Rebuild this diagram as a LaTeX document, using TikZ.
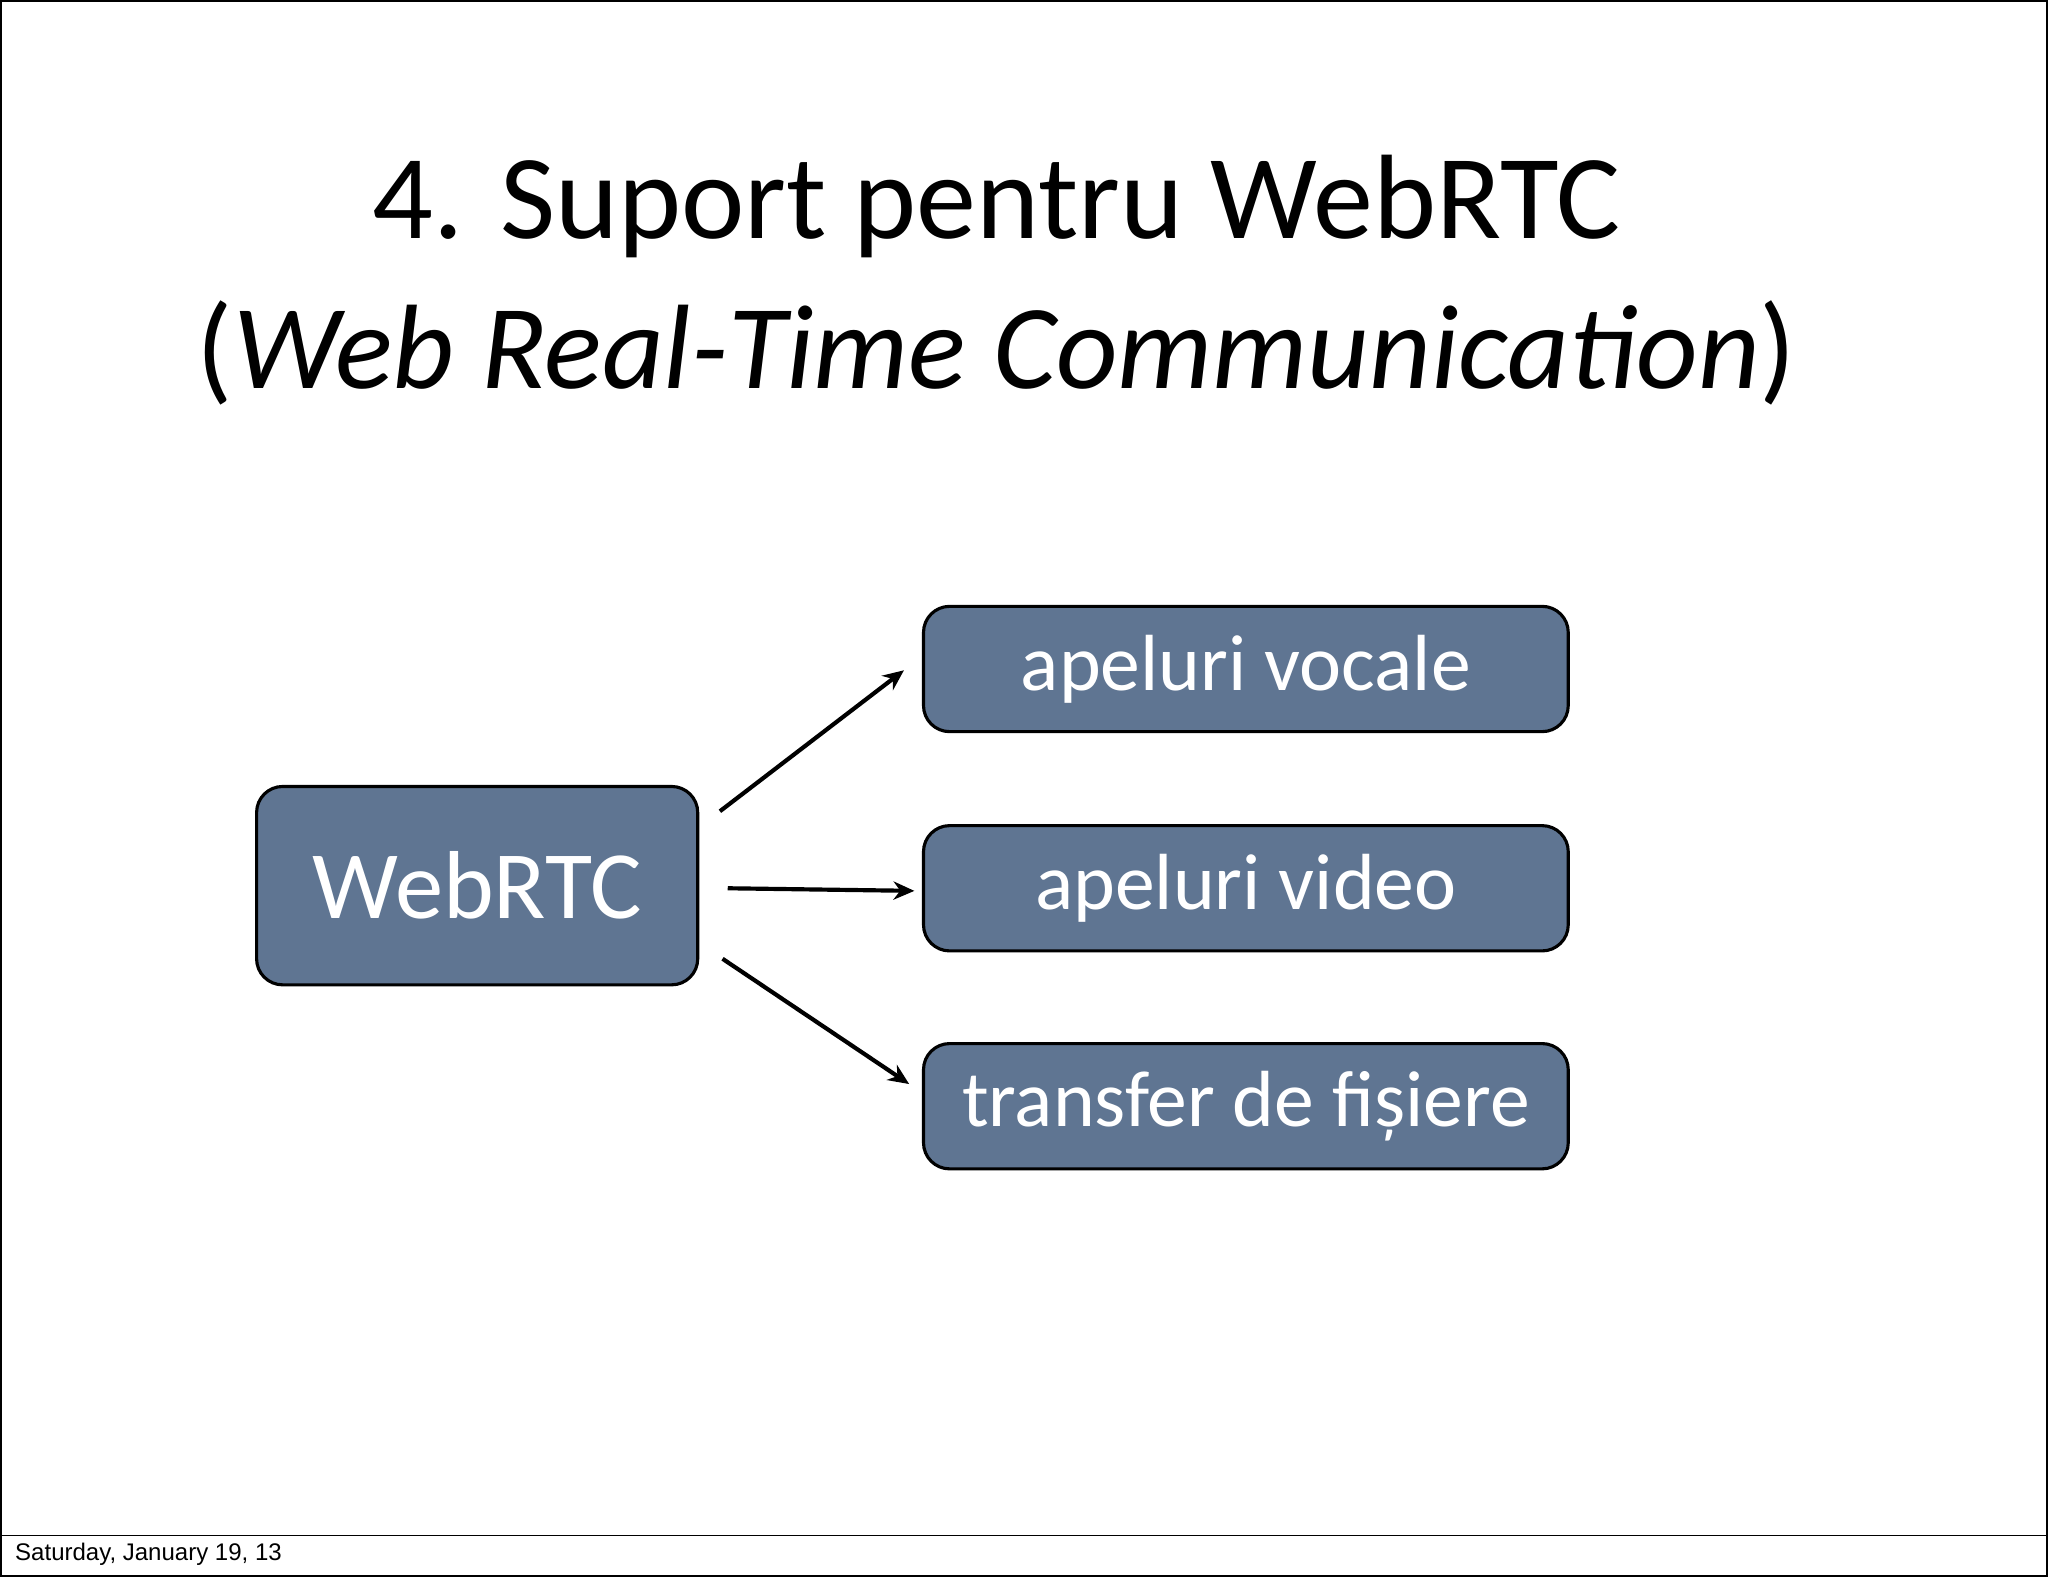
\documentclass[tikz,border=0pt]{standalone}
\usepackage{fontspec}
\setmainfont{Carlito}
\newfontfamily\footfont{Liberation Sans}
\usetikzlibrary{calc,arrows.meta}
\definecolor{slate}{HTML}{5F7592}
\begin{document}
\begin{tikzpicture}[x=0.5pt,y=-0.5pt,
  boxstyle/.style={draw=black,line width=1.2pt,fill=slate,rounded corners=10pt,text=white,inner sep=0pt},
  arr/.style={-{Stealth[length=8pt,width=7pt]},line width=1.6pt}]
\draw[line width=0.6pt,fill=white] (0,0) rectangle (1568,1207);
\draw[line width=0.6pt] (0,1176) -- (1568,1176);
\node[anchor=west,font=\footfont\fontsize{9.2}{10}\selectfont] (foot) at (4,1190) {Saturday, January 19, 13};
\node[font=\fontsize{46}{52}\selectfont] (t1) at (763,158) {4. Suport pentru WebRTC};
\node[font=\fontsize{46}{52}\selectfont] (t2) at (763,270) {(\textit{Web Real-Time Communication})};
\node[boxstyle,minimum width=169pt,minimum height=76pt,font=\fontsize{37}{42}\selectfont] (web) at (365,678) {WebRTC};
\node[boxstyle,minimum width=247pt,minimum height=48pt,font=\fontsize{30.5}{34}\selectfont] (v1) at (954,512) {apeluri vocale};
\node[boxstyle,minimum width=247pt,minimum height=48pt,font=\fontsize{30.5}{34}\selectfont] (v2) at (954,680) {apeluri video};
\node[boxstyle,minimum width=247pt,minimum height=48pt,font=\fontsize{30.5}{34}\selectfont] (v3) at (954,847) {transfer de fișiere};
\coordinate (s1) at (551,621); \coordinate (e1) at (692,513);
\coordinate (s2) at (557,680); \coordinate (e2) at (700,682);
\coordinate (s3) at (553,734); \coordinate (e3) at (696,830);
\draw[arr] (s1) -- (e1);
\draw[arr] (s2) -- (e2);
\draw[arr] (s3) -- (e3);
\end{tikzpicture}
\end{document}
